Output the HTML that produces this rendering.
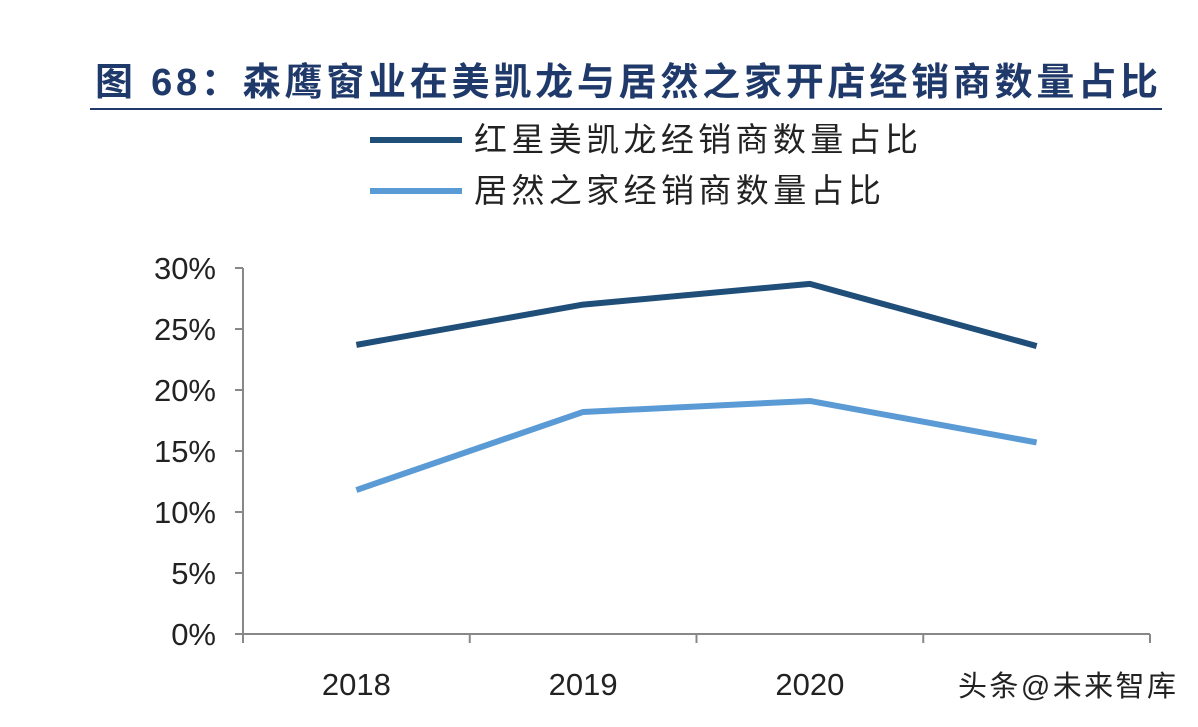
<!DOCTYPE html>
<html><head><meta charset="utf-8"><style>
body{margin:0;background:#fff;width:1198px;height:722px;overflow:hidden}
svg text{font-family:"Liberation Sans","Noto Sans CJK SC",sans-serif}
</style></head><body>
<svg width="1198" height="722">
<text x="95" y="95" font-size="38" font-weight="bold" fill="#1f3a6a" textLength="1063" lengthAdjust="spacing">图 68：森鹰窗业在美凯龙与居然之家开店经销商数量占比</text>
<line x1="90" y1="109" x2="1162" y2="109" stroke="#1f3a6a" stroke-width="2"/>
<g>
<line x1="370" y1="140" x2="462" y2="140" stroke="#1f4e79" stroke-width="6"/>
<text x="474" y="151" font-size="33" fill="#222" textLength="444" lengthAdjust="spacing">红星美凯龙经销商数量占比</text>
<line x1="370" y1="191" x2="462" y2="191" stroke="#5b9bd5" stroke-width="6"/>
<text x="474" y="202" font-size="33" fill="#222" textLength="407" lengthAdjust="spacing">居然之家经销商数量占比</text>
</g>
<g id="plot"></g>
<text x="958" y="696" font-size="29" fill="#222" textLength="218" lengthAdjust="spacing">头条@未来智库</text>
</svg>
<script>
const categories=["2018","2019","2020","2021"];
const hongxing=[23.7,27.0,28.7,23.6];
const juran=[11.8,18.2,19.1,15.7];
const yTicks=[0,5,10,15,20,25,30];
const ns="http://www.w3.org/2000/svg";
const g=document.getElementById("plot");
const x0=243,x1=1150,yb=634,yt=268,ymax=30;
const bw=(x1-x0)/categories.length;
const X=i=>x0+bw*(i+0.5);
const Y=v=>yb-(v/ymax)*(yb-yt);
function mk(t,a){const e=document.createElementNS(ns,t);for(const k in a)e.setAttribute(k,a[k]);g.appendChild(e);return e;}
let ax=mk("line",{x1:x0,y1:yt,x2:x0,y2:yb,stroke:"#888","stroke-width":2});


yTicks.forEach(v=>{
 let t=mk("line",{x1:x0-8,y1:Y(v),x2:x0,y2:Y(v),stroke:"#888","stroke-width":2});
 
 
 let l=mk("text",{x:x0-27,y:Y(v)+11,"font-size":31,fill:"#222","text-anchor":"end"});
 l.textContent=v+"%";
 
 
});
let xa=mk("line",{x1:x0,y1:yb,x2:x1,y2:yb,stroke:"#888","stroke-width":2});


for(let i=0;i<=categories.length;i++){
 let t=mk("line",{x1:x0+bw*i,y1:yb,x2:x0+bw*i,y2:yb+9,stroke:"#888","stroke-width":2});
 
 
}
categories.forEach((c,i)=>{
 if(i==3)return;
 let l=mk("text",{x:X(i),y:695,"font-size":31,fill:"#222","text-anchor":"middle"});
 l.textContent=c;
 
 
});
function line(d,col,name){
 let p=mk("polyline",{points:d.map((v,i)=>X(i)+","+Y(v)).join(" "),fill:"none",stroke:col,"stroke-width":6,"stroke-linejoin":"round"});
 
 
}
line(hongxing,"#1f4e79","series-hongxing");
line(juran,"#5b9bd5","series-juran");
</script>
</body></html>
